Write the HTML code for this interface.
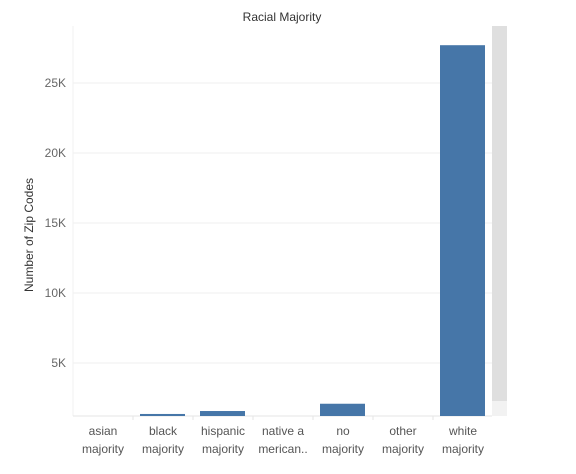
<!DOCTYPE html>
<html><head><meta charset="utf-8"><style>
body{margin:0;background:#fff;width:576px;height:469px;overflow:hidden;font-family:"Liberation Sans",sans-serif}
</style></head><body>
<svg width="576" height="469" id="svg">
<text x="282" y="21" text-anchor="middle" font-size="12" fill="#333">Racial Majority</text>
<text transform="translate(33,235) rotate(-90)" text-anchor="middle" font-size="12" fill="#333">Number of Zip Codes</text>
<rect x="492" y="26" width="15" height="375" fill="#dfdfdf"/>
<rect x="492" y="401" width="15" height="15" fill="#f2f2f2"/>
<g id="grid"></g><g id="bars"></g><g id="xl"></g>
</svg>
<script>
const categories=["asian majority","black majority","hispanic majority","native american..","no majority","other majority","white majority"];
const labels1=["asian","black","hispanic","native a","no","other","white"];
const labels2=["majority","majority","majority","merican..","majority","majority","majority"];
const values=[1100,1360,1570,1050,2090,1100,27700];
const ticks=[5000,10000,15000,20000,25000];
const tickLabels=["5K","10K","15K","20K","25K"];
const NS="http://www.w3.org/2000/svg";
const y=v=>433-v*0.014, base=416, x0=73, cw=60;
function mk(t,a,p){const e=document.createElementNS(NS,t);for(const k in a)e.setAttribute(k,a[k]);p.appendChild(e);return e;}
const g=document.getElementById('grid'),b=document.getElementById('bars'),xl=document.getElementById('xl');
ticks.forEach((t,i)=>{
 const l=mk('line',{x1:x0,x2:492,y1:y(t),y2:y(t),stroke:'#efefef'},g);
 
 
 const tx=mk('text',{x:66,y:y(t)+4,'text-anchor':'end','font-size':12,fill:'#666'},g);tx.textContent=tickLabels[i];
 
 
});
mk('line',{x1:x0,x2:x0,y1:26,y2:base,stroke:'#f0f0f0'},g);
mk('line',{x1:x0,x2:492,y1:base,y2:base,stroke:'#e6e6e6'},g);
categories.forEach((c,i)=>{
 const top=Math.max(y(values[i]),26);
 if(top<base){const r=mk('rect',{x:x0+i*cw+7,y:top,width:45,height:base-top,fill:'#4676a8'},b);
 
 }
 if(i>0){mk('line',{x1:x0+i*cw,x2:x0+i*cw,y1:base,y2:420,stroke:'#e6e6e6'},xl);}
 const cx=x0+i*cw+30;
 const t1=mk('text',{x:cx,y:435,'text-anchor':'middle','font-size':12,fill:'#555'},xl);t1.textContent=labels1[i];
 
 
 const t2=mk('text',{x:cx,y:453,'text-anchor':'middle','font-size':12,fill:'#555'},xl);t2.textContent=labels2[i];
 
 
});
</script>
</body></html>
